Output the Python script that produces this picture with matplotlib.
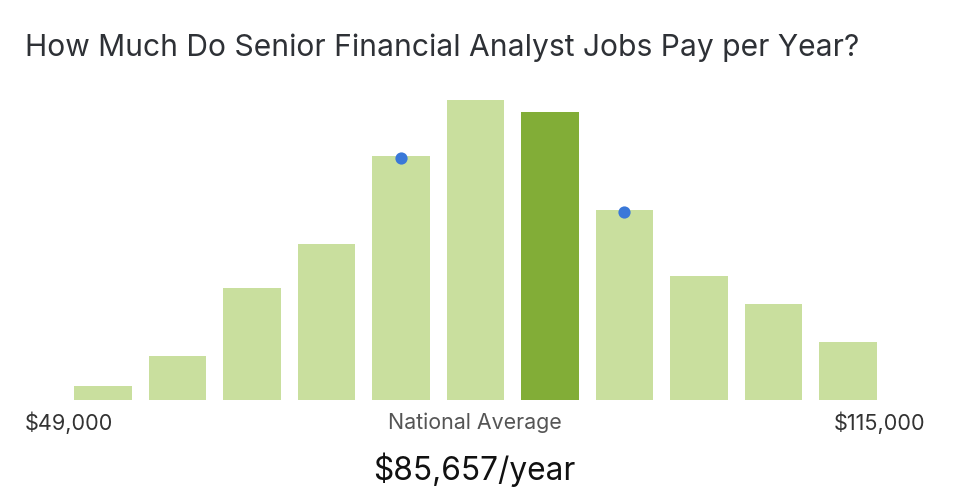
import matplotlib
matplotlib.use("Agg")
import matplotlib.pyplot as plt

# Data
bins = list(range(11))
counts = [14, 44, 112, 156, 244, 300, 288, 190, 124, 96, 58]
highlight_index = 6
marker_bins = [4, 7]
title = "How Much Do Senior Financial Analyst Jobs Pay per Year?"
low_label = "$49,000"
high_label = "$115,000"
mid_label = "National Average"
avg_label = "$85,657/year"

W, H = 956, 496
plt.rcParams['font.family'] = ['Inter', 'DejaVu Sans']
fig = plt.figure(figsize=(W / 100, H / 100), dpi=100)

left_px, right_px = 65.8, 885.2
top_px, bot_px = 100, 400
ax = fig.add_axes([left_px / W, 1 - bot_px / H, (right_px - left_px) / W, (bot_px - top_px) / H])

light = "#c9df9e"
dark = "#82ad37"
colors = [dark if i == highlight_index else light for i in bins]
ax.bar(bins, counts, width=0.77, color=colors, linewidth=0)
ax.plot(marker_bins, [counts[i] - 2 for i in marker_bins], 'o', color="#3a78d8",
        markersize=8.8, markeredgewidth=0, clip_on=False)
ax.set_xlim(-0.5, 10.5)
ax.set_ylim(0, 300)
ax.axis('off')

fig.text(25 / W, 1 - 48 / H, title, fontsize=21.6, color="#2e3136", va='center', ha='left')
fig.text(25 / W, 1 - 423 / H, low_label, fontsize=15.6, color="#333333", va='center', ha='left')
fig.text(925 / W, 1 - 423 / H, high_label, fontsize=15.6, color="#333333", va='center', ha='right')
fig.text(475 / W, 1 - 423 / H, mid_label, fontsize=15.4, color="#555555", va='center', ha='center')
fig.text(474 / W, 1 - 470 / H, avg_label, fontsize=22.8, color="#111111", va='center', ha='center')

fig.savefig("out.png", dpi=100)
